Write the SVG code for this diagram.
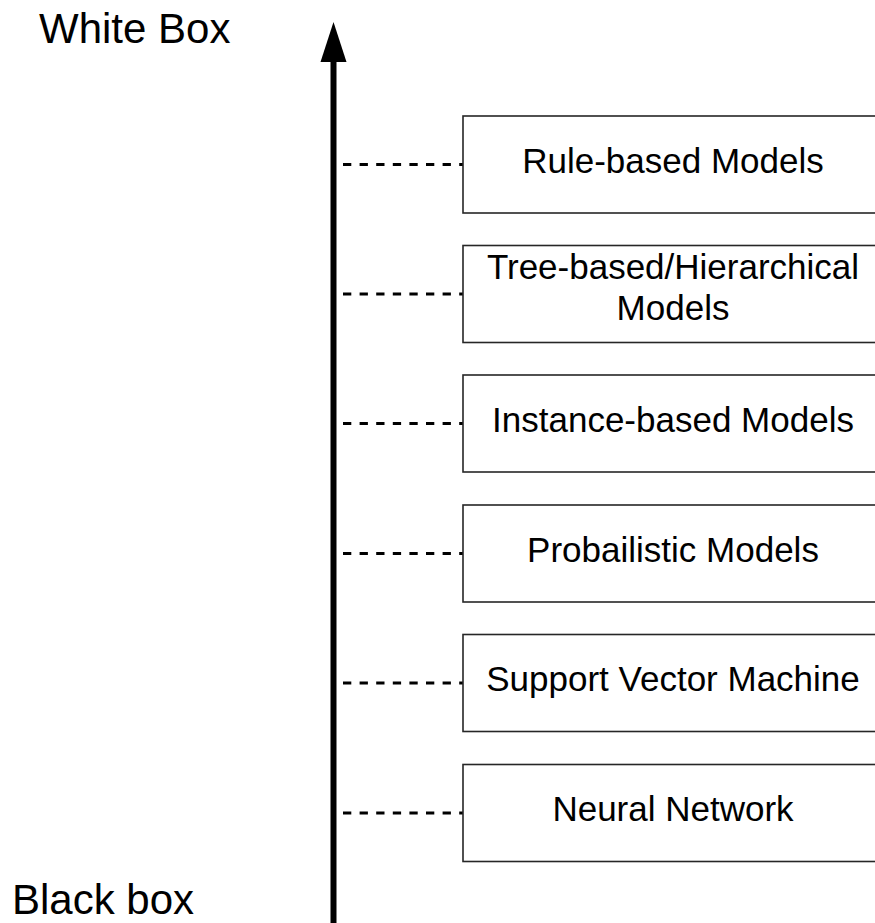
<svg xmlns="http://www.w3.org/2000/svg" width="875" height="923" viewBox="0 0 875 923">
<style>
.box{fill:#fff;stroke:#262626;stroke-width:1.6}
.t{font-family:"Liberation Sans",Arial,sans-serif;font-size:35px;fill:#000;text-anchor:middle}
.lbl{font-family:"Liberation Sans",Arial,sans-serif;font-size:42px;fill:#000}
.dash{stroke:#000;stroke-width:3;stroke-dasharray:8.3 8.3;fill:none}
</style>
<rect width="875" height="923" fill="#fff"/>
<g id="labels">
<text class="lbl" x="39" y="43">White Box</text>
<text class="lbl" x="12" y="914">Black box</text>
</g>
<g id="connectors">
<line x1="333.5" y1="923" x2="333.5" y2="58" stroke="#000" stroke-width="6"/>
<polygon points="333.5,22 320.5,62 346.5,62" fill="#000"/>
<line class="dash" x1="343" y1="164.5" x2="463" y2="164.5"/>
<line class="dash" x1="343" y1="294" x2="463" y2="294"/>
<line class="dash" x1="343" y1="423.5" x2="463" y2="423.5"/>
<line class="dash" x1="343" y1="553.5" x2="463" y2="553.5"/>
<line class="dash" x1="343" y1="683" x2="463" y2="683"/>
<line class="dash" x1="343" y1="813" x2="463" y2="813"/>
</g>
<g id="rule">
<rect class="box" x="463" y="116" width="420" height="97"/>
<text class="t" x="673" y="172.5">Rule-based Models</text>
</g>
<g id="tree">
<rect class="box" x="463" y="245.5" width="420" height="97"/>
<text class="t" x="673" y="278.5">Tree-based/Hierarchical</text>
<text class="t" x="673" y="320">Models</text>
</g>
<g id="instance">
<rect class="box" x="463" y="375" width="420" height="97"/>
<text class="t" x="673" y="431.5">Instance-based Models</text>
</g>
<g id="prob">
<rect class="box" x="463" y="505" width="420" height="97"/>
<text class="t" x="673" y="561.5">Probailistic Models</text>
</g>
<g id="svm">
<rect class="box" x="463" y="634.5" width="420" height="97"/>
<text class="t" x="673" y="691">Support Vector Machine</text>
</g>
<g id="nn">
<rect class="box" x="463" y="764.5" width="420" height="97"/>
<text class="t" x="673" y="821">Neural Network</text>
</g>
</svg>
